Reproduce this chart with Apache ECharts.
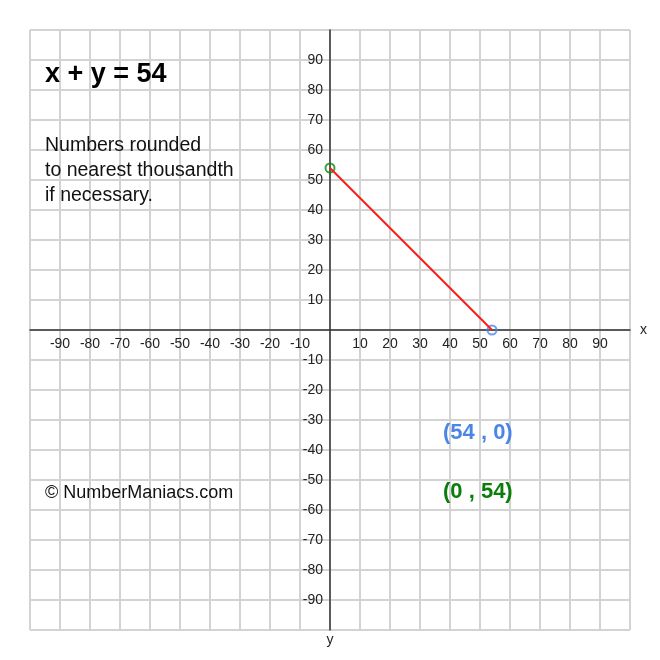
<!DOCTYPE html>
<html>
<head>
	<meta charset="utf-8">
	<title>x + y = 54</title>
	<script src="https://cdn.jsdelivr.net/npm/echarts@6/dist/echarts.min.js"></script>
	<style>
		html, body { margin: 0; padding: 0; background: #fff; }
		#main { width: 660px; height: 660px; }
	</style>
</head>
<body>
<div id="main"></div>
<script type="text/javascript">
// data
var titleText = 'x + y = 54';
var noteLines = ['Numbers rounded', 'to nearest thousandth', 'if necessary.'];
var creditText = '\u00a9 NumberManiacs.com';
var axisRange = [-100, 100];
var tickStep = 10;
var hiddenTicks = [0, -100, 100];
var linePoints = [[0, 54], [54, 0]];
var pointYIntercept = [0, 54];
var pointXIntercept = [54, 0];
var labelXIntercept = '(54 , 0)';
var labelYIntercept = '(0 , 54)';

var font = 'Liberation Sans, Arial, Helvetica, sans-serif';

function tickLabel(v) {
    return hiddenTicks.indexOf(v) >= 0 ? '' : String(v);
}

var myChart = echarts.init(document.getElementById('main'));

var axisCommon = {
    type: 'value',
    min: axisRange[0],
    max: axisRange[1],
    interval: tickStep,
    axisLine: { onZero: true, lineStyle: { color: '#333', width: 1.5 } },
    axisTick: { show: false },
    splitLine: { show: true, lineStyle: { color: '#d3d3d3', width: 2 } },
    nameTextStyle: { fontFamily: font, fontSize: 14, color: '#222' }
};

// labels sit next to the zero lines, not at the grid edge
var option = {
    animation: false,
    grid: { left: 30, right: 30, top: 30, bottom: 30, containLabel: false },
    xAxis: echarts.util.merge({
        name: 'x',
        nameLocation: 'end',
        nameGap: 10,
        axisLabel: { formatter: tickLabel, margin: -293, fontFamily: font, fontSize: 14, color: '#222' }
    }, axisCommon),
    yAxis: echarts.util.merge({
        name: 'y',
        nameLocation: 'start',
        nameGap: 3,
        axisLabel: { formatter: tickLabel, margin: -293, fontFamily: font, fontSize: 14, color: '#222' }
    }, axisCommon),
    graphic: [
        { type: 'text', z: 100, left: 45, top: 61, style: { text: titleText, font: 'bold 27px ' + font, fill: '#000' } },
        { type: 'text', z: 100, left: 45, top: 133, style: { text: noteLines.join('\n'), font: '19.5px ' + font, lineHeight: 25, fill: '#111' } },
        { type: 'text', z: 100, left: 45, top: 484, style: { text: creditText, font: '18px ' + font, fill: '#111' } },
        { type: 'text', z: 100, left: 443, top: 422, style: { text: labelXIntercept, font: 'bold 22px ' + font, fill: '#4a86e8' } },
        { type: 'text', z: 100, left: 443, top: 481, style: { text: labelYIntercept, font: 'bold 22px ' + font, fill: '#0a7d0a' } }
    ],
    series: [
        {
            type: 'line',
            data: linePoints,
            showSymbol: false,
            lineStyle: { color: '#ff1a1a', width: 2 }
        },
        {
            type: 'scatter',
            data: [pointYIntercept],
            symbol: 'circle',
            symbolSize: 9,
            itemStyle: { color: 'rgba(0,0,0,0)', borderColor: '#0a8a0a', borderWidth: 2 }
        },
        {
            type: 'scatter',
            data: [pointXIntercept],
            symbol: 'circle',
            symbolSize: 9,
            itemStyle: { color: 'rgba(0,0,0,0)', borderColor: '#4a86e8', borderWidth: 2 }
        }
    ]
};

myChart.setOption(option);
</script>
</body>
</html>
